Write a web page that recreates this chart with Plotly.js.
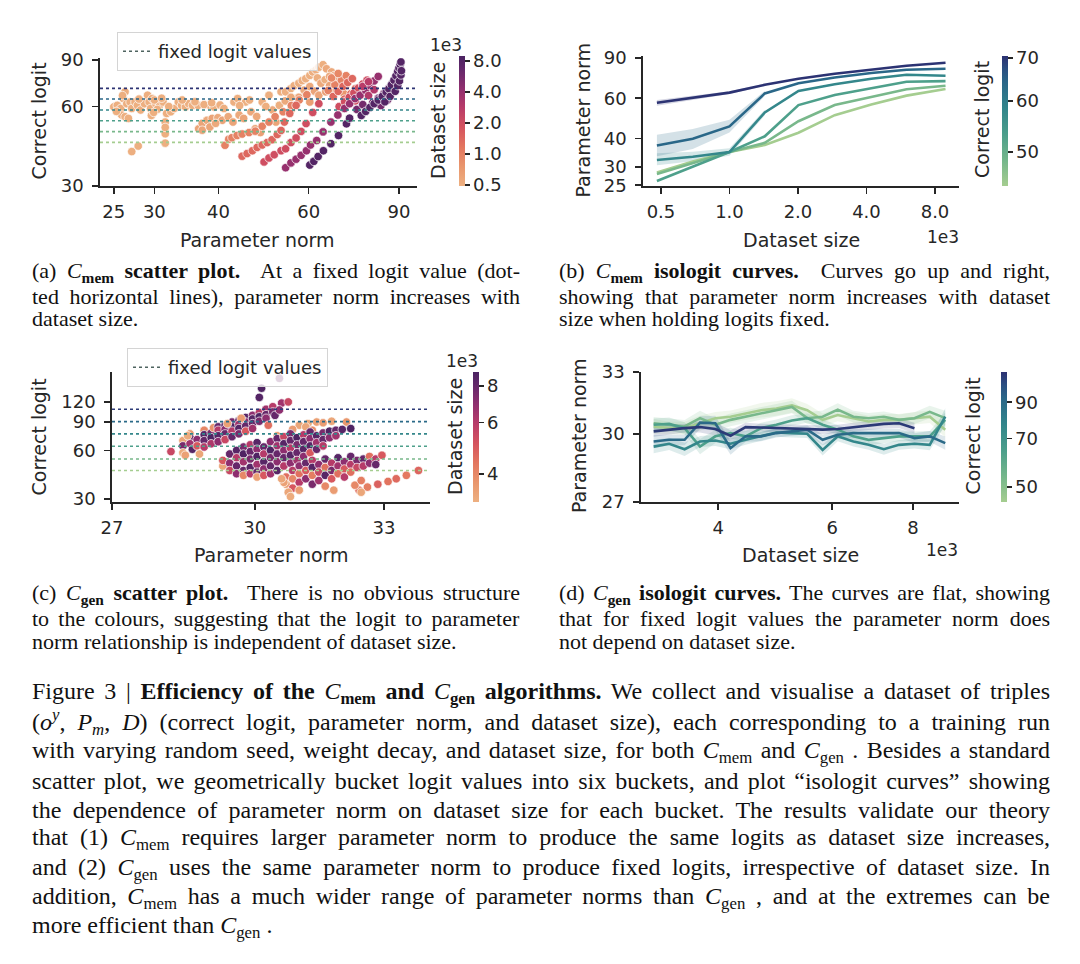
<!DOCTYPE html>
<html><head><meta charset="utf-8">
<script src="https://cdn.plot.ly/plotly-3.0.1.min.js"></script>
<style>html,body{margin:0;padding:0;background:#fff;}#chart{width:1080px;height:964px;}</style>
</head><body><div id="chart"></div>
<script>
// ---------------- DATA ----------------
// (a) C_mem scatter: [parameter norm, correct logit, dataset size (thousands)]
const memLightLeft = [[25.0,59.8,0.5],[25.4,60.6,0.5],[25.8,59.0,0.5],[26.1,64.3,0.5],[26.3,68.2,0.5],[26.5,61.5,0.5],[26.9,62.4,0.5],[25.9,55.7,0.5],[26.3,54.9,0.5],[26.7,54.1,0.5],[27.1,59.0,0.5],[27.5,62.4,0.5],[27.8,60.6,0.5],[28.2,58.2,0.5],[28.7,61.5,0.5],[29.1,66.2,0.5],[29.3,62.4,0.5],[29.5,59.0,0.5],[29.7,64.3,0.5],[30.2,61.5,0.5],[30.7,60.6,0.5],[31.2,62.4,0.5],[31.5,52.4,0.5],[31.5,47.3,0.5],[31.5,43.6,0.5],[31.7,56.5,0.5],[32.3,57.3,0.5],[32.8,59.0,0.5],[33.4,62.4,0.5],[33.9,60.6,0.5],[34.5,59.8,0.5],[35.0,61.5,0.5],[35.6,60.6,0.5],[36.5,60.6,0.5],[38.5,60.6,0.5],[39.2,59.8,0.5],[27.1,40.5,0.5],[27.9,42.5,0.5],[29.6,55.5,0.5],[30.0,63.5,0.5],[25.3,57.5,0.5],[26.0,66.0,0.5],[28.0,64.0,0.5],[30.4,58.5,0.5],[31.0,64.5,0.5],[32.0,60.0,0.5],[34.0,63.5,0.5],[36.0,62.5,0.5],[37.5,61.0,0.5],[29.9,57.0,0.5],[31.5,50.0,0.5],[38.8,62.0,0.5]];
const memLightMid = [[36.6,49.4,0.6],[37.2,51.8,0.6],[38.0,53.2,0.55],[38.9,54.1,0.6],[39.9,54.4,0.55],[40.7,53.2,0.6],[41.8,54.9,0.55],[42.7,52.4,0.6],[43.9,55.7,0.55],[44.8,54.1,0.6],[37.2,48.8,0.6],[38.5,50.2,0.6],[39.5,51.8,0.55],[42.9,62.4,0.5],[43.6,64.3,0.5],[45.2,62.4,0.5],[46.3,57.3,0.55],[47.2,49.4,0.6],[48.3,47.8,0.65],[48.7,62.4,0.5],[50.2,66.2,0.5],[51.0,58.2,0.55],[53.0,68.2,0.5],[52.6,60.6,0.5],[51.8,52.4,0.6],[40.3,60.8,0.5],[41.0,59.0,0.5],[44.0,60.5,0.5],[46.0,63.5,0.5],[47.5,55.0,0.55],[49.5,60.0,0.5],[54.0,63.0,0.55],[55.5,58.5,0.6]];
const memLightTop = [[54.1,68.2,0.5],[55.4,70.2,0.5],[56.2,71.9,0.5],[57.4,73.5,0.5],[58.3,75.2,0.5],[59.2,76.5,0.5],[60.3,78.7,0.5],[61.1,81.1,0.5],[62.0,82.6,0.5],[62.8,84.5,0.5],[64.0,86.4,0.5],[65.0,83.4,0.55],[66.5,81.1,0.55],[67.4,78.7,0.6],[68.6,76.5,0.6],[69.8,74.4,0.65],[70.8,71.9,0.7],[62.4,77.0,0.5],[63.4,73.5,0.55],[64.6,75.8,0.5],[65.9,78.0,0.55],[66.7,74.4,0.6],[68.8,71.4,0.65],[58.8,69.2,0.55],[60.3,71.4,0.55],[61.6,68.6,0.6],[62.8,66.2,0.6],[64.8,68.2,0.65],[66.7,70.2,0.65],[70.3,67.1,0.75],[57.4,65.0,0.6],[60.3,62.4,0.65],[55.4,65.0,0.55],[65.9,72.0,0.6]];
const memChain1k = [[41.2,42.8,1.0],[41.9,45.1,1.0],[42.5,45.7,1.0],[43.5,46.6,1.0],[44.5,47.2,1.0],[45.9,47.8,1.0],[47.2,48.4,1.0],[48.7,50.5,1.0],[50.2,52.4,1.0],[51.6,54.9,1.0],[53.5,57.3,1.0],[55.5,60.5,1.0],[57.5,63.5,1.0],[59.5,66.5,1.0],[65.5,69.0,1.0],[67.5,72.5,1.0],[69.5,75.5,1.0],[71.0,78.5,1.0],[66.5,77.0,0.9],[68.5,80.0,0.9]];
const memChain14k = [[44.5,38.9,1.4],[45.5,39.8,1.4],[46.6,40.8,1.4],[47.6,42.0,1.4],[48.7,42.9,1.4],[49.8,43.8,1.4],[50.9,44.9,1.4],[52.1,47.0,1.4],[53.0,48.7,1.4],[53.8,52.4,1.4],[55.1,56.5,1.4],[56.7,60.6,1.4],[67.0,65.5,1.4],[68.5,68.5,1.4],[70.0,71.5,1.4],[71.5,74.0,1.4],[73.0,76.5,1.4],[70.5,64.0,1.4],[72.5,67.0,1.4],[74.0,70.0,1.4]];
const memChain2k = [[49.1,37.0,2.0],[50.2,38.3,2.0],[51.4,39.4,2.0],[53.0,40.8,2.0],[54.1,41.5,2.0],[55.4,43.8,2.0],[56.7,45.6,2.0],[58.0,48.3,2.0],[59.3,51.7,2.0],[61.1,57.0,2.0],[62.8,61.5,2.0],[68.8,60.0,2.0],[70.5,62.5,2.0],[72.0,65.0,2.0],[73.5,67.5,2.0],[75.0,70.5,2.0],[76.5,73.0,2.0],[78.0,75.5,2.0],[74.0,63.0,2.0],[76.0,66.5,2.0]];
const memChain4k = [[54.1,35.2,4.0],[55.4,36.7,4.0],[56.7,37.9,4.0],[58.0,39.2,4.0],[59.4,40.8,4.0],[60.5,42.9,4.0],[62.2,44.6,4.0],[64.0,48.1,4.0],[66.3,52.4,4.0],[68.4,55.7,4.0],[70.5,59.0,4.0],[72.1,61.5,4.0],[73.9,64.3,4.0],[75.6,66.2,4.0],[77.5,69.0,4.0],[79.0,72.0,4.0],[80.5,75.0,4.0],[82.0,78.0,4.0],[78.5,66.0,3.0],[80.5,69.5,3.0],[76.5,71.5,2.8],[78.5,74.5,2.8]];
const memChain57k = [[80.0,62.0,5.7],[82.0,64.5,5.7],[84.0,67.0,5.7],[86.0,70.5,5.7],[87.5,73.5,5.7],[88.5,76.5,5.7],[83.0,60.5,5.7],[85.5,63.5,5.7],[74.5,58.5,5.7],[76.5,61.0,5.7]];
const memChain8k = [[60.3,36.0,8.0],[61.4,37.2,8.0],[62.6,38.8,8.0],[64.1,40.8,8.0],[66.3,43.4,8.0],[68.6,46.6,8.0],[71.1,51.6,8.0],[72.1,54.2,8.0],[76.0,55.5,8.0],[77.5,57.5,8.0],[79.0,59.5,8.0],[80.5,61.5,8.0],[82.0,63.5,8.0],[83.5,65.5,8.0],[85.0,68.0,8.0],[86.0,70.0,8.0],[87.0,72.5,8.0],[88.0,75.5,8.0],[88.8,78.5,8.0],[89.5,81.5,8.0],[90.0,84.0,8.0],[90.5,86.5,8.0],[90.8,88.5,8.0],[84.5,62.5,8.0],[86.5,65.5,8.0],[88.5,68.5,8.0],[89.5,72.0,8.0],[90.2,75.0,8.0],[90.8,79.0,8.0],[91.0,82.0,8.0]];

// (c) C_gen scatter: [parameter norm, correct logit, dataset size (thousands)]
const genUpper = [[28.2,59,5.5],[28.45,69,3.4],[28.45,64,7.5],[28.45,58,3.3],[28.5,56,3.5],[28.6,76,3.6],[28.6,72,8.0],[28.6,66,6.5],[28.65,61,8.5],[28.75,70,7.0],[28.75,64,5.0],[28.8,57,3.4],[28.9,80,4.0],[28.9,75,8.5],[28.9,69,8.0],[28.9,63,6.0],[29.05,77,7.5],[29.05,72,8.8],[29.05,66,6.2],[29.1,83,3.8],[29.2,84,8.0],[29.2,80,6.0],[29.2,74,8.5],[29.2,68,7.0],[29.35,86,8.5],[29.35,81,7.0],[29.35,76,8.0],[29.35,70,5.5],[29.5,90,7.5],[29.5,84,8.8],[29.5,79,6.0],[29.5,73,8.0],[29.65,92,8.0],[29.65,87,6.5],[29.65,82,8.5],[29.65,76,7.5],[29.8,96,8.5],[29.8,90,7.0],[29.8,85,8.0],[29.8,79,5.0],[29.95,99,7.0],[29.95,94,8.5],[29.95,88,8.0],[29.95,82,6.5],[30.1,103,6.0],[30.1,97,8.8],[30.1,91,7.5],[30.25,108,6.5],[30.25,100,8.0],[30.25,95,7.0],[30.3,86,4.5],[30.4,112,6.0],[30.4,104,7.5],[30.45,99,8.0],[30.6,118,6.5],[30.55,107,7.0],[30.75,120,5.5],[29.4,88,3.5],[29.7,95,3.6],[28.55,74,3.3]];
const genOutliers = [[30.1,128,8.6],[30.15,146,8.8],[30.55,168,7.8]];
const genMiddle = [[29.3,48,3.4],[29.3,52,5.0],[29.45,57,8.0],[29.45,50,7.0],[29.45,45,5.5],[29.6,60,8.5],[29.6,54,6.0],[29.6,48,8.0],[29.6,43,7.0],[29.75,63,7.5],[29.75,57,8.8],[29.75,51,6.5],[29.75,45,8.0],[29.75,42,4.0],[29.9,65,6.0],[29.9,59,8.0],[29.9,53,7.5],[29.9,47,8.5],[29.9,43,6.0],[30.05,67,8.5],[30.05,61,7.0],[30.05,55,8.8],[30.05,49,6.5],[30.05,44,8.0],[30.05,41,3.5],[30.2,63,8.0],[30.2,57,6.0],[30.2,51,8.5],[30.2,46,7.0],[30.2,42,5.0],[30.35,68,7.0],[30.35,60,8.8],[30.35,54,7.5],[30.35,48,8.0],[30.35,43,6.5],[30.5,71,8.0],[30.5,64,6.5],[30.5,57,8.0],[30.5,51,7.0],[30.5,45,8.5],[30.65,73,5.5],[30.65,66,8.5],[30.65,60,7.0],[30.65,54,8.0],[30.65,48,6.0],[30.8,76,7.5],[30.8,69,8.0],[30.8,62,6.0],[30.8,56,8.5],[30.8,50,7.0],[30.95,72,8.8],[30.95,65,7.5],[30.95,58,8.0],[30.95,52,6.5],[31.1,75,6.0],[31.1,68,8.0],[31.1,61,8.5],[31.1,55,7.0],[31.25,78,8.0],[31.25,71,7.0],[31.25,64,8.5],[31.25,58,5.0],[31.4,74,8.5],[31.4,67,6.5],[31.4,61,8.0],[31.55,77,7.5],[31.55,70,8.0],[31.55,64,6.0],[31.7,79,8.8],[31.7,72,7.0],[31.85,80,8.0],[31.85,74,6.5],[32.0,81,8.5],[32.2,82,8.8]];
const genLower = [[30.7,41,4.5],[30.7,37,3.5],[30.85,45,6.0],[30.85,40,4.0],[30.85,35,5.0],[31.0,48,7.0],[31.0,43,4.5],[31.0,38,6.0],[31.0,34,3.6],[31.15,50,8.0],[31.15,45,5.0],[31.15,40,7.0],[31.3,52,6.0],[31.3,47,8.5],[31.3,42,4.2],[31.3,37,7.5],[31.45,49,7.0],[31.45,44,5.5],[31.45,39,6.5],[31.6,53,8.0],[31.6,47,4.5],[31.6,42,8.5],[31.6,36,4.0],[31.75,50,6.0],[31.75,45,7.5],[31.75,40,5.0],[31.9,54,8.5],[31.9,48,6.5],[31.9,43,4.5],[32.05,51,7.0],[32.05,46,5.0],[32.05,41,6.0],[32.2,55,8.0],[32.2,49,6.0],[32.2,44,4.5],[32.35,52,7.5],[32.35,47,5.5],[32.5,53,8.0],[32.5,48,6.0],[32.65,55,4.5],[32.65,50,7.0],[32.8,53,6.0],[32.8,49,8.0],[32.95,56,5.0]];
const genTail = [[32.4,34,4.5],[32.6,35.5,4.2],[32.85,37,4.8],[33.1,38.5,4.4],[33.3,40,4.6],[33.55,42,4.3],[33.85,45,4.7],[32.3,36.5,4.0],[32.45,39,4.2]];
const genLight = [[31.0,86,3.4],[31.2,88,3.3],[31.4,90,3.5],[31.55,89,3.6],[31.75,91,3.4],[32.1,90,3.7],[30.5,74,3.5],[31.3,80,3.9],[30.85,81,3.6],[31.15,84,3.4],[30.75,33,3.4],[30.8,31,3.3],[30.65,38,3.5],[32.45,33,3.4],[31.8,34,3.6],[30.6,40,3.4]];

// fixed logit buckets
const memBuckets = [43.9, 48.2, 53.0, 58.2, 64.1, 70.3];
const genBuckets = [45.0, 53.1, 63.7, 76.0, 90.5, 108.1];

// (b) C_mem isologit curves (dataset size in thousands)
const memIsoSize = [0.48, 0.69, 1.0, 1.43, 2.01, 2.9, 4.2, 6.0, 8.9];
const memIsoNorm = [
  [28.4, 31.7, 34.9, 37.5, 42.4, 50.6, 56.4, 61.6, 65.8],
  [28.0, 31.3, 34.9, 38.3, 47.6, 56.0, 60.9, 65.7, 68.0],
  [26.1, 30.2, 34.9, 40.9, 56.0, 62.0, 66.3, 70.8, 71.3],
  [32.2, 33.3, 34.9, 52.0, 64.6, 69.1, 73.0, 76.0, 75.3],
  [37.3, 39.9, 45.2, 63.0, 69.8, 73.9, 77.3, 79.9, 80.8],
  [57.3, 60.3, 63.5, 68.7, 73.0, 76.8, 80.2, 83.2, 85.8]
];
const memBandLines = [3, 4, 5];
const memBandLow  = [[30.6, 31.8, 33.6, 50.5], [33.5, 36.0, 42.5, 61.5], [55.6, 59.0, 62.6, 67.9]];
const memBandHigh = [[34.5, 35.0, 36.3, 53.5], [41.5, 44.0, 48.3, 64.6], [59.0, 61.6, 64.4, 69.5]];

// (d) C_gen isologit curves
const genIsoSize = [3.18, 3.36, 3.55, 3.75, 3.96, 4.18, 4.41, 4.66, 4.92, 5.2, 5.49, 5.8, 6.12, 6.47, 6.83, 7.21, 7.61, 8.04, 8.49, 8.97];
const genIsoNorm = [
  [30.34,30.26,30.26,30.49,30.73,30.80,30.96,31.11,31.19,31.34,31.11,30.65,30.88,30.73,30.57,30.65,30.65,30.73,30.80,30.19],
  [30.49,30.42,30.34,30.73,30.42,30.65,30.80,30.99,31.11,31.27,30.73,30.80,31.14,30.80,30.73,30.80,30.65,30.73,31.03,30.73],
  [30.42,30.46,30.26,29.41,29.88,30.03,29.88,30.26,30.42,30.62,30.73,30.42,30.19,29.88,29.72,29.80,29.88,29.88,29.88,30.65],
  [29.41,29.54,29.29,29.64,29.69,29.54,29.72,29.88,30.06,30.03,30.00,29.26,29.88,29.64,29.49,29.29,29.49,29.54,29.49,30.80],
  [29.64,29.72,29.72,30.52,30.49,29.34,29.88,29.88,30.03,30.11,30.19,29.72,29.95,30.03,30.03,30.03,30.03,29.80,29.88,29.57],
  [30.11,30.19,30.26,30.31,30.22,29.91,30.31,30.29,30.26,30.25,30.23,30.19,30.22,30.31,30.37,30.46,30.49,30.26]
];
const genBandHalf = [
  [0.35,0.3,0.3,0.35,0.3,0.3,0.3,0.35,0.35,0.35,0.3,0.3,0.3,0.3,0.28,0.28,0.28,0.3,0.3,0.35],
  [0.3,0.3,0.3,0.35,0.3,0.3,0.3,0.3,0.3,0.3,0.28,0.3,0.3,0.28,0.25,0.25,0.25,0.28,0.3,0.35],
  [0.3,0.3,0.28,0.35,0.3,0.25,0.25,0.25,0.25,0.25,0.22,0.25,0.22,0.25,0.25,0.22,0.22,0.22,0.25,0.35],
  [0.3,0.28,0.3,0.25,0.25,0.25,0.22,0.2,0.2,0.2,0.2,0.25,0.22,0.22,0.22,0.25,0.22,0.22,0.25,0.4],
  [0.3,0.25,0.25,0.3,0.35,0.3,0.25,0.22,0.2,0.2,0.2,0.25,0.2,0.2,0.2,0.2,0.2,0.22,0.25,0.3],
  [0.25,0.22,0.2,0.25,0.3,0.25,0.2,0.18,0.18,0.18,0.18,0.2,0.2,0.2,0.2,0.22,0.22,0.25]
];

// tick labels
const memNormTicks = [25, 30, 40, 60, 90];
const memLogitTicks = [30, 60, 90];
const memSizeTicks = [0.5, 1, 2, 4, 8];
const memSizeTickText = ['0.5', '1.0', '2.0', '4.0', '8.0'];
const memIsoNormTicks = [25, 30, 40, 60, 90];
const memIsoLogitTicks = [50, 60, 70];
const genNormTicks = [27, 30, 33];
const genLogitTicks = [30, 60, 90, 120];
const genSizeTicks = [4, 6, 8];
const genIsoNormTicks = [27, 30, 33];
const genIsoLogitTicks = [50, 70, 90];

// ---------------- STYLE / HELPERS ----------------
const W = 1080, H = 964;
const px = v => v / W, py = v => 1 - v / H;
const L10 = Math.log10;
const flare = [[0,'#edb081'],[0.15,'#e9966d'],[0.3,'#e3765f'],[0.45,'#d5545f'],[0.6,'#b93c69'],[0.75,'#902f6f'],[0.9,'#63286a'],[1,'#4b2362']];
const crest = [[0,'#a5cd90'],[0.2,'#74b68b'],[0.4,'#4b9e8b'],[0.6,'#32858b'],[0.8,'#2a6688'],[0.9,'#2b4f82'],[1,'#2c3172']];
function hex2rgb(h){return [parseInt(h.slice(1,3),16),parseInt(h.slice(3,5),16),parseInt(h.slice(5,7),16)];}
function colorAt(scale,t){t=Math.max(0,Math.min(1,t));for(let i=1;i<scale.length;i++){if(t<=scale[i][0]){const a=hex2rgb(scale[i-1][1]),b=hex2rgb(scale[i][1]);const f=(t-scale[i-1][0])/(scale[i][0]-scale[i-1][0]);return a.map((v,k)=>Math.round(v+(b[k]-v)*f));}}return hex2rgb(scale[scale.length-1][1]);}
const rgb = c => `rgb(${c.join(',')})`, rgba = (c,a) => `rgba(${c.join(',')},${a})`;
const tOf = (v, lim) => (L10(v) - L10(lim[0])) / (L10(lim[1]) - L10(lim[0]));

// axis / colour limits (data units)
const aX = [23.5, 97.6], aY = [30, 91.6];
const bX = [0.417, 10.2], bY = [24.8, 91.8];
const cX = [27, 34.14], cY = [28.7, 184];
const dX = [3.04, 9.42], dY = [27, 33];
const memSizeLim = [0.489, 8.95], memLogitLim = [44.3, 70.5];
const genSizeLim = [3.2, 8.95], genLogitLim = [45, 111];

const TXT = '#262626';
const SANS = 'DejaVu Sans';
const SERIF = 'Liberation Serif';

const data = [];
// (a) scatter
const memPts = [].concat(memLightLeft, memLightMid, memLightTop, memChain1k, memChain14k, memChain2k, memChain4k, memChain57k, memChain8k);
data.push({type:'scatter', mode:'markers', xaxis:'x', yaxis:'y', x:memPts.map(p=>p[0]), y:memPts.map(p=>p[1]),
  marker:{color:memPts.map(p=>L10(p[2])), coloraxis:'coloraxis', size:8.5, line:{color:'white', width:0.7}}, showlegend:false, hoverinfo:'skip'});
memBuckets.forEach(b => data.push({type:'scatter', mode:'lines', xaxis:'x', yaxis:'y', x:aX, y:[b,b],
  line:{color:rgb(colorAt(crest, tOf(b, memLogitLim))), width:1.6, dash:'dot'}, showlegend:false, hoverinfo:'skip'}));
data.push({type:'scatter', mode:'lines', xaxis:'x', yaxis:'y', x:[null], y:[null], name:'fixed logit values', legend:'legend',
  line:{color:'#4f6460', width:1.6, dash:'dot'}, showlegend:true});

// (b) isologit curves
memBandLines.forEach((li, k) => {
  const c = colorAt(crest, tOf(memBuckets[li], memLogitLim));
  const xs = memIsoSize.slice(0, memBandLow[k].length);
  data.push({type:'scatter', mode:'lines', xaxis:'x2', yaxis:'y2', x:xs, y:memBandLow[k], line:{width:0, color:rgba(c,0)}, showlegend:false, hoverinfo:'skip'});
  data.push({type:'scatter', mode:'lines', xaxis:'x2', yaxis:'y2', x:xs, y:memBandHigh[k], fill:'tonexty', fillcolor:rgba(c,0.2), line:{width:0, color:rgba(c,0)}, showlegend:false, hoverinfo:'skip'});
});
memIsoNorm.forEach((ys, i) => data.push({type:'scatter', mode:'lines', xaxis:'x2', yaxis:'y2', x:memIsoSize, y:ys,
  line:{color:rgb(colorAt(crest, tOf(memBuckets[i], memLogitLim))), width:2.6}, showlegend:false, hoverinfo:'skip'}));
data.push({type:'scatter', mode:'markers', xaxis:'x2', yaxis:'y2', x:memIsoNorm.map(()=>memIsoSize[0]), y:memIsoNorm.map(r=>r[0]),
  marker:{color:memBuckets.map(L10), coloraxis:'coloraxis2', opacity:0, size:1}, showlegend:false, hoverinfo:'skip'});

// (c) scatter
const genPts = [].concat(genLight.slice(0,10), genUpper, genMiddle, genLower, genTail, genLight.slice(10), genOutliers);
data.push({type:'scatter', mode:'markers', xaxis:'x3', yaxis:'y3', x:genPts.map(p=>p[0]), y:genPts.map(p=>p[1]),
  marker:{color:genPts.map(p=>L10(p[2])), coloraxis:'coloraxis3', size:8.5, line:{color:'white', width:0.7}}, showlegend:false, hoverinfo:'skip'});
genBuckets.forEach(b => data.push({type:'scatter', mode:'lines', xaxis:'x3', yaxis:'y3', x:cX, y:[b,b],
  line:{color:rgb(colorAt(crest, tOf(b, genLogitLim))), width:1.6, dash:'dot'}, showlegend:false, hoverinfo:'skip'}));
data.push({type:'scatter', mode:'lines', xaxis:'x3', yaxis:'y3', x:[null], y:[null], name:'fixed logit values', legend:'legend2',
  line:{color:'#4f6460', width:1.6, dash:'dot'}, showlegend:true});

// (d) isologit curves
genIsoNorm.forEach((ys, i) => {
  const c = colorAt(crest, tOf(genBuckets[i], genLogitLim));
  const xs = genIsoSize.slice(0, ys.length);
  data.push({type:'scatter', mode:'lines', xaxis:'x4', yaxis:'y4', x:xs, y:ys.map((v,k)=>v-genBandHalf[i][k]), line:{width:0, color:rgba(c,0)}, showlegend:false, hoverinfo:'skip'});
  data.push({type:'scatter', mode:'lines', xaxis:'x4', yaxis:'y4', x:xs, y:ys.map((v,k)=>v+genBandHalf[i][k]), fill:'tonexty', fillcolor:rgba(c,0.16), line:{width:0, color:rgba(c,0)}, showlegend:false, hoverinfo:'skip'});
});
genIsoNorm.forEach((ys, i) => data.push({type:'scatter', mode:'lines', xaxis:'x4', yaxis:'y4', x:genIsoSize.slice(0, ys.length), y:ys,
  line:{color:rgb(colorAt(crest, tOf(genBuckets[i], genLogitLim))), width:2.6}, showlegend:false, hoverinfo:'skip'}));
data.push({type:'scatter', mode:'markers', xaxis:'x4', yaxis:'y4', x:genIsoNorm.map(()=>genIsoSize[0]), y:genIsoNorm.map(r=>r[0]),
  marker:{color:genBuckets.map(L10), coloraxis:'coloraxis4', opacity:0, size:1}, showlegend:false, hoverinfo:'skip'});

// ---------------- LAYOUT ----------------
const axBase = {type:'log', showline:true, linecolor:TXT, linewidth:1.8, ticks:'outside', ticklen:6, tickwidth:1.6, tickcolor:TXT,
  showgrid:false, zeroline:false, tickmode:'array', tickfont:{family:SANS, size:18, color:TXT}, fixedrange:true};
const ax = (dom, lim, tv, tt, anchor, standoff) => Object.assign({}, axBase, {domain:dom, range:lim.map(L10), tickvals:tv, ticktext:tt || tv.map(String), anchor:anchor, ticklabelstandoff:standoff});

function cbar(x0, yTop, yBot, tv, tt) {
  return {x:px(x0), xanchor:'left', y:py((yTop+yBot)/2), yanchor:'middle', len:yBot-yTop, lenmode:'pixels', thickness:6, thicknessmode:'pixels',
    outlinewidth:0, ticks:'outside', ticklen:5, tickwidth:1.5, tickcolor:TXT, tickmode:'array', tickvals:tv.map(L10), ticktext:tt || tv.map(String),
    tickfont:{family:SANS, size:18, color:TXT}, xpad:0, ypad:0};
}

const ann = [];
function label(text, x, y, opts) { ann.push(Object.assign({text:text, x:px(x), y:py(y), xref:'paper', yref:'paper', showarrow:false, xanchor:'center', yanchor:'middle', font:{family:SANS, size:19, color:TXT}}, opts||{})); }
const small = {family:SANS, size:17, color:TXT};
// axis titles
label('Correct logit', 38.5, 121, {textangle:-90});
label('Parameter norm', 257.5, 240);
label('Dataset size', 438, 121, {textangle:-90});
label('1e3', 446, 45, {font:small});
label('Parameter norm', 582.5, 120, {textangle:-90});
label('Dataset size', 801, 240);
label('1e3', 942.5, 236.5, {font:small});
label('Correct logit', 982, 120, {textangle:-90});
label('Correct logit', 38.5, 437, {textangle:-90});
label('Parameter norm', 271, 555);
label('Dataset size', 455, 437, {textangle:-90});
label('1e3', 462, 361, {font:small});
label('Parameter norm', 579, 436, {textangle:-90});
label('Dataset size', 800, 555);
label('1e3', 942, 550, {font:small});
label('Correct logit', 972.5, 436, {textangle:-90});

// captions
const justify = {};
function cap(text, x, y, size, target) {
  const idx = ann.length;
  ann.push({text:text, x:px(x), y:py(y), xref:'paper', yref:'paper', showarrow:false, xanchor:'left', yanchor:'middle', align:'left',
    font:{family:SERIF, size:size, color:'#111'}});
  if (target) justify[idx] = target;
}
const Cm = '<i>C</i><sub><b>mem</b></sub>', Cg = '<i>C</i><sub><b>gen</b></sub>';
const cm = '<i>C</i><sub>mem</sub>', cg = '<i>C</i><sub>gen</sub>';
const SC = 22;
cap('(a) ' + Cm + ' <b>scatter plot.</b>  At a fixed logit value (dot-', 30, 272, SC, 488);
cap('ted horizontal lines), parameter norm increases with', 30, 296, SC, 488);
cap('dataset size.', 30, 319, SC);
cap('(b) ' + Cm + ' <b>isologit curves.</b>  Curves go up and right,', 557, 272, SC, 491);
cap('showing that parameter norm increases with dataset', 557, 296, SC, 491);
cap('size when holding logits fixed.', 557, 319, SC);
cap('(c) ' + Cg + ' <b>scatter plot.</b>  There is no obvious structure', 30, 594, SC, 488);
cap('to the colours, suggesting that the logit to parameter', 30, 618, SC, 488);
cap('norm relationship is independent of dataset size.', 30, 641, SC);
cap('(d) ' + Cg + ' <b>isologit curves.</b> The curves are flat, showing', 557, 594, SC, 491);
cap('that for fixed logit values the parameter norm does', 557, 618, SC, 491);
cap('not depend on dataset size.', 557, 641, SC);
const FC = 24;
const figLines = [
  'Figure 3 | <b>Efficiency of the </b>' + Cm + '<b> and </b>' + Cg + '<b> algorithms.</b> We collect and visualise a dataset of triples',
  '(<i>o</i><sup><i>y</i></sup>, <i>P</i><sub><i>m</i></sub>, <i>D</i>) (correct logit, parameter norm, and dataset size), each corresponding to a training run',
  'with varying random seed, weight decay, and dataset size, for both ' + cm + ' and ' + cg + ' . Besides a standard',
  'scatter plot, we geometrically bucket logit values into six buckets, and plot \u201cisologit curves\u201d showing',
  'the dependence of parameter norm on dataset size for each bucket. The results validate our theory',
  'that (1) ' + cm + ' requires larger parameter norm to produce the same logits as dataset size increases,',
  'and (2) ' + cg + ' uses the same parameter norm to produce fixed logits, irrespective of dataset size. In',
  'addition, ' + cm + ' has a much wider range of parameter norms than ' + cg + ' , and at the extremes can be',
  'more efficient than ' + cg + ' .'
];
figLines.forEach((t, i) => cap(t, 30, 693 + i * 29.25, FC, i < figLines.length - 1 ? 1018 : null));

const legBase = {xanchor:'left', yanchor:'top', bgcolor:'rgba(255,255,255,0.8)', bordercolor:'#d4d4d4', borderwidth:1,
  font:{family:SANS, size:18, color:TXT}, itemwidth:30};

const layout = {
  width:W, height:H, margin:{l:0, r:0, t:0, b:0}, paper_bgcolor:'#fff', plot_bgcolor:'rgba(0,0,0,0)', showlegend:true,
  xaxis: ax([px(100), px(417)], aX, memNormTicks, null, 'y', 3),
  yaxis: ax([py(186), py(58)], aY, memLogitTicks, null, 'x', 5),
  xaxis2: ax([px(643), px(959)], bX, memSizeTicks, memSizeTickText, 'y2', 3),
  yaxis2: ax([py(186), py(56)], bY, memIsoNormTicks, null, 'x2', 5),
  xaxis3: ax([px(112), px(430)], cX, genNormTicks, null, 'y3', 3),
  yaxis3: ax([py(502), py(372)], cY, genLogitTicks, null, 'x3', 5),
  xaxis4: ax([px(641), px(959)], dX, genSizeTicks, null, 'y4', 3),
  yaxis4: ax([py(502), py(372)], dY, genIsoNormTicks, null, 'x4', 5),
  coloraxis: {colorscale:flare, cmin:L10(memSizeLim[0]), cmax:L10(memSizeLim[1]), colorbar:cbar(459, 56, 186, memSizeTicks, memSizeTickText)},
  coloraxis2: {colorscale:crest, cmin:L10(memLogitLim[0]), cmax:L10(memLogitLim[1]), colorbar:cbar(1002, 56, 186, memIsoLogitTicks)},
  coloraxis3: {colorscale:flare, cmin:L10(genSizeLim[0]), cmax:L10(genSizeLim[1]), colorbar:cbar(473, 372, 502, genSizeTicks)},
  coloraxis4: {colorscale:crest, cmin:L10(genLogitLim[0]), cmax:L10(genLogitLim[1]), colorbar:cbar(1001, 372, 502, genIsoLogitTicks)},
  legend: Object.assign({x:px(117), y:py(32)}, legBase),
  legend2: Object.assign({x:px(127), y:py(348)}, legBase),
  annotations: ann
};

Plotly.newPlot('chart', data, layout, {staticPlot:true, displayModeBar:false}).then(() => {
  document.querySelectorAll('g.annotation').forEach(g => {
    const idx = +g.getAttribute('data-index');
    const target = justify[idx];
    if (!target) return;
    const t = g.querySelector('text.annotation-text');
    if (!t) return;
    const w = t.getBBox().width;
    const n = (t.textContent.match(/[ \u00a0]/g) || []).length;
    if (n > 0) t.style.wordSpacing = ((target - w) / n) + 'px';
  });
});
</script></body></html>
